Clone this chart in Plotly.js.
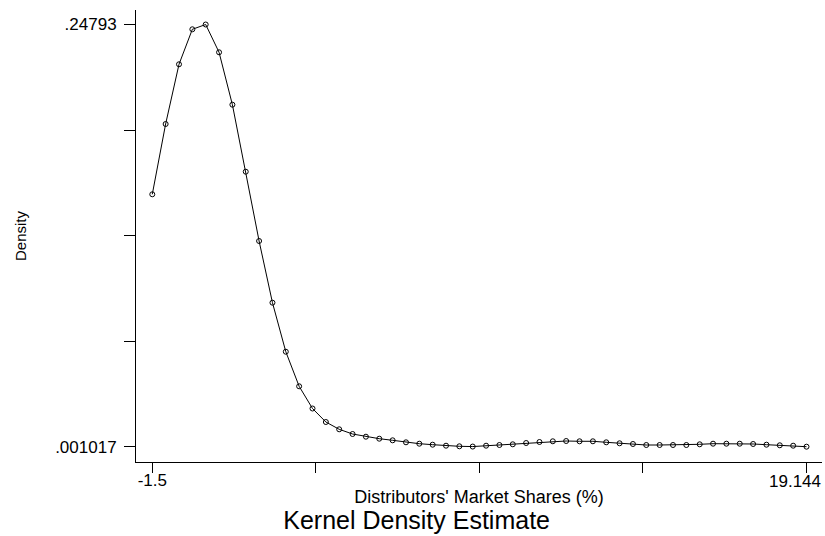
<!DOCTYPE html>
<html>
<head>
<meta charset="utf-8">
<script src="https://cdn.plot.ly/plotly-3.0.1.min.js"></script>
<style>html,body{margin:0;padding:0;background:#fff;}#chart{width:825px;height:536px;}</style>
</head>
<body>
<div id="chart"></div>
<script>
// Evaluation grid (Distributors' Market Shares, %)
const marketShare = [
  -1.500, -1.079, -0.657, -0.236, 0.185, 0.607, 1.028, 1.449, 1.870, 2.292,
  2.713, 3.134, 3.556, 3.977, 4.398, 4.820, 5.241, 5.662, 6.084, 6.505,
  6.926, 7.347, 7.769, 8.190, 8.611, 9.033, 9.454, 9.875, 10.297, 10.718,
  11.139, 11.560, 11.982, 12.403, 12.824, 13.246, 13.667, 14.088, 14.510, 14.931,
  15.352, 15.774, 16.195, 16.616, 17.037, 17.459, 17.880, 18.301, 18.723, 19.144
];
// Kernel density estimates
const density = [
  0.14863, 0.18974, 0.22466, 0.24513, 0.24793, 0.23168, 0.20103, 0.16185, 0.12132, 0.08523,
  0.05657, 0.03634, 0.02336, 0.01546, 0.01119, 0.00844, 0.00687, 0.00570, 0.00476, 0.00359,
  0.00277, 0.00219, 0.00160, 0.00125, 0.00110, 0.00160, 0.00201, 0.00242, 0.00318, 0.00377,
  0.00418, 0.00435, 0.00418, 0.00418, 0.00359, 0.00301, 0.00260, 0.00201, 0.00201, 0.00201,
  0.00201, 0.00242, 0.00277, 0.00277, 0.00277, 0.00260, 0.00219, 0.00184, 0.00160, 0.001017
];
const xTickVals = [-1.5, 3.661, 8.822, 13.983, 19.144];
const xTickText = ['-1.5', '', '', '', ''];
const xEndLabel = '19.144';   // drawn right-aligned to stay inside the frame, as in the reference
const yTickVals = [0.001017, 0.062745, 0.124474, 0.186202, 0.24793];
const yTickText = ['.001017', '', '', '', '.24793'];

const FONT = 'Liberation Sans, Arial, sans-serif';

const trace = {
  x: marketShare,
  y: density,
  type: 'scatter',
  mode: 'lines+markers',
  line: {color: '#000', width: 1},
  marker: {symbol: 'circle-open', size: 5, color: '#000', line: {width: 1, color: '#000'}},
  hoverinfo: 'x+y'
};

const layout = {
  width: 825,
  height: 536,
  margin: {l: 136, r: 3, t: 10, b: 74},
  paper_bgcolor: '#fff',
  plot_bgcolor: '#fff',
  showlegend: false,
  font: {family: FONT, color: '#000', size: 17},
  title: {
    text: 'Kernel Density Estimate',
    font: {family: FONT, size: 25, color: '#000'},
    xref: 'container', x: 0.505, xanchor: 'center',
    yref: 'container', y: 0.029, yanchor: 'middle'
  },
  xaxis: {
    range: [-2.014, 19.633],
    tickmode: 'array', tickvals: xTickVals, ticktext: xTickText,
    ticks: 'outside', ticklen: 10, tickwidth: 1, tickcolor: '#000',
    ticklabelstandoff: -7,
    showline: true, linecolor: '#000', linewidth: 1,
    showgrid: false, zeroline: false,
    tickfont: {family: FONT, size: 17, color: '#000'},
    title: {text: "Distributors' Market Shares (%)", font: {family: FONT, size: 18, color: '#000'}, standoff: 0}
  },
  yaxis: {
    range: [-0.00793, 0.25641],
    tickmode: 'array', tickvals: yTickVals, ticktext: yTickText,
    ticks: 'outside', ticklen: 11, tickwidth: 1, tickcolor: '#000',
    ticklabelstandoff: 4,
    showline: true, linecolor: '#000', linewidth: 1,
    showgrid: false, zeroline: false,
    tickfont: {family: FONT, size: 17, color: '#000'},
    title: {text: 'Density', font: {family: FONT, size: 15, color: '#000'}, standoff: 24}
  },
  annotations: [{
    x: xTickVals[4], xref: 'x', xanchor: 'right', xshift: 16,
    y: 0, yref: 'paper', yanchor: 'middle', yshift: -19,
    text: xEndLabel, showarrow: false,
    font: {family: FONT, size: 17, color: '#000'}
  }]
};

Plotly.newPlot('chart', [trace], layout, {staticPlot: true, displayModeBar: false});
</script>
</body>
</html>
